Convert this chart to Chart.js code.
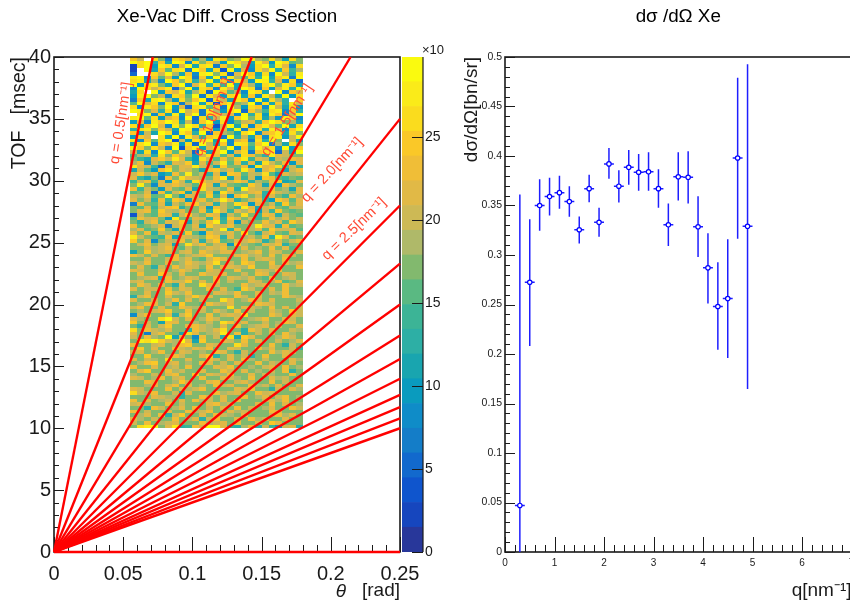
<!DOCTYPE html>
<html lang="en">
<head>
    <meta charset="UTF-8"/>
    <title>Xe-Vac</title>
    <script src="https://cdn.jsdelivr.net/npm/chart.js@4.4.1/dist/chart.umd.min.js"></script>
    <style>
        html, body { margin: 0; background: #fff; overflow: hidden; width: 850px; height: 608px; }
        canvas { position: absolute; top: 0; }
        #heatChart { left: 0; }
        #barChart { left: 402px; }
        #sigmaChart { left: 460px; }
    </style>
</head>
<body>
<canvas id="heatChart" width="456" height="608"></canvas>
<canvas id="barChart" width="60" height="608"></canvas>
<canvas id="sigmaChart" width="436" height="608"></canvas>
<script>
    // left panel: q lines, end points
    const lineTheta = [0.0714, 0.1429, 0.2143, 0.25, 0.25, 0.25, 0.25, 0.25, 0.25, 0.25, 0.25, 0.25, 0.25, 0.25, 0.25];
    const lineTof = [40, 40, 40, 35, 28, 23.3, 20, 17.5, 15.6, 14, 12.7, 11.7, 10.8, 10, 0];
    const qLabels = ['q = 0.5[nm⁻¹]', 'q = 1.0[nm⁻¹]', 'q = 1.5[nm⁻¹]', 'q = 2.0[nm⁻¹]', 'q = 2.5[nm⁻¹]'];
    const qLabelTheta = [0.0484, 0.1149, 0.1684, 0.2009, 0.2168];
    const qLabelTof = [34.67, 35.15, 34.9, 30.87, 26.1];
    const qLabelAngle = [-81, -68, -57, -47, -44];
    const thetaTicks = [0, 0.05, 0.1, 0.15, 0.2, 0.25];
    const tofTicks = [0, 5, 10, 15, 20, 25, 30, 35, 40];

    // heat map: colour level of each cell, base 20, top row (40 msec) first, . = empty
    const heatThetaStart = 0.055, heatThetaBin = 0.005, heatTofTop = 40, heatTofBin = 0.3;
    const heatRows = [
        'gd.hb4hge8c6igbcjicbhc7hb', 'jhj8g7ji5hbgd6jhd7ie6jhab', '1hj6ih5ej7hi4gbjc6hj8ie5h', '1.j7gahi4jg7h2j6e5hdj8g9c',
        '3..hdjc7g5ijbh3ejg7h5jd8i', 'ij5gae6jh4g7j5icah8j7gi4j', 'hi7c5jgbh8dj7g5hd6ji8e5h3', 'j6hib7gj5ei8h9j7gc6hjbig7',
        '5jhdgi3cj6hg5ie7jh4g6ei8j', '7h.j6gei7ch3jgac5ih7.j5gd', '6ijbd5hgaj4ie6hj7g5id7j6h', '4g7ijc6hbgj3hd7ig5j6hc8.g',
        'ajeh5ig4dj7h2gibcj5h7g8id', 'h5igbj6e3hiag4jc6hg5jd7h6', 'jibe8h5jdg4ic6hj3gc9hi5g8', '.hj5g7i6ej4hgde5j8h6ig4dj',
        'ijah6eg5j3h8di6gjbh7c6ig5', '6e5igjh7d4gj6h5ade8gjhbc7', 'h7gje5ibjh8g2dj7h5gieaj7h', '8hibgd7ji5gh6e7j4gh8ie5gj',
        'g6d7jh5ig8j3gcb7hj5egi7hb', '6ge.h7j5ie9gh4j8d7g5hi6dj', 'i5gahj2d6hgi7j5eg4h8jb.d7', '7hj5gei6h3jd8g5ihagj4c7hb',
        'jgbhd5j2gi7ehbj5g8ieh5j6g', 'd7h5jgahd3i7gj6eh4ghi3d7j',
        'ace8hbgdc6dhfae7hfb8iedbb', 'b97egdie96hdafbgi9ed7dcfe', 'cf5db8edg7eadiaf8e7hdbf6e', 'ied93fbeeidc7gbbf6iefhad9',
        '7da6fhbedb7fgceaie6egb7df', 'dgce68fbibd8e6gfadcha7ecd', 'e97b4fbhedcbfi7e9d6gfa9ba', '9df9e6gd8hfdecdge8cbfg78e',
        'bib5edfdcahe7fba9gd7e6fcb', 'f9db6ebae7hdcbf8iedcfbc7e', 'abe3f9dg7ebf7hdbcef8gdcbe', 'dcfabib7edag9e6fhbd8eb9fc',
        'ebd8f9ge6dfbdie8bdf96geae', '4fbae7dbfgce8dbhf6ebd9gbe', 'bae9dfg8bbe6fdb9ie7dfbadd', 'befagdcebbf8hd9ecf6d9gbab',
        '2dbafe8dgcbfe7dbhb9fe8dba', 'afdeb6ibaed9f8gebd9bfcebd', 'b8dfaedg7dbfi9e6dbbfceagd', 'fabce4dfbe7gddfbbciee8fab',
        'ceabgb7fbdebdi8fbceagddea', 'ebf8dceaga6fdcebhb8dfbaed', 'idba9f7edcbgf8ebcdbf8ieab', 'gbe5bdcfbe8dgabedfd8bebdf',
        'bdfbde7bhdfbde6gcbaedf8bb',
        'bbecdfbadbcedfbbebcbfbeab', '7bgcdebdebfdceebcdfbedbbe', 'fdbeb9fbcdegbbbefcdbfbedb', 'bbebbdfcebadgebbfbdedbfbb',
        'dcfbbebcfdcehbdbgebbfbecd', 'beb8dbfcedbfbeedcgbbedbbf', 'edbbebcfdbaedbbfbbedcfbbb', 'bfbbgdbebbfddebbdbfebbedb',
        'bcde8fbcedbbfbedcebafbcdb', 'debbbfddgbebfbdbbedbcfabe', 'bfdbeb8ebbhedbbbfcdebbfcd', 'ebddbfbedbbfbeb9gdbbebfbb',
        'bbebbgdcfbbbedcfbbebdcfbb', '8dfbbebbdgdebbbfdbebbbfdc', 'ebbdbcfbebdbbhebcfdbebbbd', 'bcfebd8gbbafdcebbbfedbbbc',
        'dfbbebbfdcebbbhbedcbfbebd', 'bcbdegbbfbdbecbfbdbbecbgd', '5dfbbe8dgbbfbdedhbbbfdbed', 'ecbbhjdbebcfdbbebcdfbbedb',
        'gbdb7febbcbdbhfcebbdbcfeb', 'b8ebdgbbefdcbebfbcdebdbbe', 'hbfdcebb8fdcehbb8fdbebbdc', 'eb4dfbb7hebcdibf8bdbebfcb',
        'dbfcbj7eb5fbd8h7gebbbcfdb',
        'bihjgdcje7gbbedbfbebbdbce', 'fbbdebcfgbbedbbhebbbfb8db', 'bgbebbfdcedfbbedbbfcebbd8', 'debcfbbedbcbfeb8dbbbfcedb',
        'bbgbbcfdbbeg8bebd8bfbbebb', 'ebdcbhbbebbfdbebfcbdbbbec', 'bcfgbdebcbfebdbebbfbdcbeb', 'fbbebcdbfbbbedfbbcbdebfbc',
        'begbbfcdbbebbfdbebcbdbf8b', 'cbbdbefbbgbedcfbbebdcbbfb', 'edbcfbdebbfbbedcbfbbecdbb', 'bbfebbcgdbbefbbdecbbfbdbb',
        'bbcebdfbebcbfdebbfcdbebbe', 'edbbbfbecdfbbbbedfbb8dbec', 'hdcfbbd8ebbbfcdebbfdebbbb', 'bbbedcc8bbfdbebbfbcebdfbc',
        'fbebcdbebfcdbebfbbbdecfbb', 'decbbfbdbbbefcdbbbebfbebc', 'bb8fdbcebfbdbebfbdbcebbfd', 'fbdbbebbfcdfbbecdbbbfebbb',
        'bcebf8dgbbebfdcbebbbdfceb', 'ecbdbbfbce8dfbbebfcdbbebb', 'dbfbcdebbbfcdebfbbebgebbb', 'bhijbei89fdjje98cf8d96de8'
    ];

    // colour bar
    const bandColors = [
        '#28379a', '#1646be', '#0f55cd', '#1269cd', '#147dc8', '#0f8cc8', '#0a9bbe', '#19a5af', '#2dafa5', '#3cb496',
        '#5ab982', '#82b96e', '#afb969', '#cdb955', '#e1b946', '#f0be37', '#fac828', '#fadc1e', '#faeb19', '#fafa0f'
    ];
    const bandWidth = 1.49;
    const zTicks = [0, 5, 10, 15, 20, 25];

    // right panel
    const qVals = [0.3, 0.5, 0.7, 0.9, 1.1, 1.3, 1.5, 1.7, 1.9, 2.1, 2.3, 2.5, 2.7, 2.9, 3.1, 3.3, 3.5, 3.7, 3.9, 4.1, 4.3, 4.5, 4.7, 4.9];
    const sigma = [0.047, 0.2725, 0.35, 0.359, 0.363, 0.354, 0.3255, 0.367, 0.333, 0.392, 0.3695, 0.3886, 0.3836, 0.384, 0.367, 0.3305, 0.379, 0.3785, 0.3285, 0.287, 0.248, 0.256, 0.398, 0.329];
    const sigmaHi = [0.361, 0.336, 0.3765, 0.378, 0.38, 0.3695, 0.339, 0.381, 0.3477, 0.408, 0.3856, 0.406, 0.402, 0.4037, 0.3866, 0.352, 0.4037, 0.4047, 0.3594, 0.322, 0.2926, 0.3158, 0.479, 0.4926];
    const sigmaLo = [0, 0.208, 0.3245, 0.34, 0.3466, 0.3386, 0.3117, 0.3534, 0.3185, 0.377, 0.353, 0.371, 0.365, 0.365, 0.3477, 0.309, 0.355, 0.352, 0.298, 0.251, 0.2044, 0.196, 0.3164, 0.1647];
    const qHalfBin = 0.1;
    const qTicks = [0, 1, 2, 3, 4, 5, 6, 7];
    const sigmaTicks = [0, 0.05, 0.1, 0.15, 0.2, 0.25, 0.3, 0.35, 0.4, 0.45, 0.5];

    const FONT = '"Liberation Sans", Arial, sans-serif';
    Chart.defaults.font.family = FONT;
    Chart.defaults.animation = false;
    Chart.defaults.color = '#1a1a1a';

    // ticks point inward like ROOT
    function drawMarks(chart, scale, minorStep, major, lens) {
        const ctx = chart.ctx, a = chart.chartArea;
        ctx.save();
        ctx.strokeStyle = '#1a1a1a';
        ctx.lineWidth = 1;
        const n = Math.floor((scale.max - scale.min) / minorStep + 0.001);
        for (let i = 0; i <= n; i++) {
            const v = scale.min + i * minorStep;
            const isMajor = major.some(m => Math.abs(m - v) < minorStep / 10);
            const len = isMajor ? lens[0] : lens[1];
            const p = Math.round(scale.getPixelForValue(v)) + 0.5;
            ctx.beginPath();
            if (scale.axis === 'x') {
                ctx.moveTo(p, a.bottom);
                ctx.lineTo(p, a.bottom - len);
            } else if (scale.position === 'right') {
                ctx.moveTo(a.right, p);
                ctx.lineTo(a.right - len, p);
            } else {
                ctx.moveTo(a.left, p);
                ctx.lineTo(a.left + len, p);
            }
            ctx.stroke();
        }
        ctx.restore();
    }

    function drawFrame(chart) {
        const a = chart.chartArea, ctx = chart.ctx;
        ctx.save();
        ctx.strokeStyle = '#1a1a1a';
        ctx.lineWidth = 1.6;
        ctx.strokeRect(a.left, a.top, a.right - a.left, a.bottom - a.top);
        ctx.restore();
    }

    function drawTitle(chart, text) {
        const a = chart.chartArea, ctx = chart.ctx;
        ctx.save();
        ctx.fillStyle = '#000';
        ctx.font = '18.8px ' + FONT;
        ctx.textAlign = 'center';
        ctx.textBaseline = 'middle';
        ctx.fillText(text, (a.left + a.right) / 2, 17);
        ctx.restore();
    }

    const heatPlugin = {
        id: 'heatCells',
        beforeDatasetsDraw(chart) {
            const ctx = chart.ctx, x = chart.scales.x, y = chart.scales.y;
            heatRows.forEach((row, r) => {
                const top = Math.round(y.getPixelForValue(heatTofTop - r * heatTofBin));
                const bot = Math.round(y.getPixelForValue(heatTofTop - (r + 1) * heatTofBin));
                for (let c = 0; c < row.length; c++) {
                    const level = parseInt(row[c], 20);
                    if (isNaN(level)) continue;
                    const l = Math.round(x.getPixelForValue(heatThetaStart + c * heatThetaBin));
                    const rr = Math.round(x.getPixelForValue(heatThetaStart + (c + 1) * heatThetaBin));
                    ctx.fillStyle = bandColors[level];
                    ctx.fillRect(l, top, rr - l, bot - top);
                }
            });
            drawFrame(chart);
            drawMarks(chart, x, 0.01, thetaTicks, [15, 7]);
            drawMarks(chart, y, 1, tofTicks, [10, 5]);
            drawTitle(chart, 'Xe-Vac Diff. Cross Section');
        },
        afterDatasetsDraw(chart) {
            const ctx = chart.ctx, x = chart.scales.x, y = chart.scales.y, a = chart.chartArea;
            ctx.save();
            ctx.fillStyle = 'rgb(255,75,55)';
            ctx.font = '14.5px ' + FONT;
            ctx.textAlign = 'center';
            ctx.textBaseline = 'middle';
            qLabels.forEach((txt, i) => {
                ctx.save();
                ctx.translate(x.getPixelForValue(qLabelTheta[i]), y.getPixelForValue(qLabelTof[i]));
                ctx.rotate(qLabelAngle[i] * Math.PI / 180);
                ctx.fillText(txt, 0, 0);
                ctx.restore();
            });
            ctx.fillStyle = '#1a1a1a';
            ctx.font = '19px ' + FONT;
            ctx.textAlign = 'right';
            ctx.fillText('[rad]', a.right, 591);
            ctx.font = 'italic 19px ' + FONT;
            ctx.textAlign = 'center';
            ctx.fillText('θ', a.right - 59, 592);
            ctx.restore();
        }
    };

    const barPlugin = {
        id: 'barMarks',
        afterDatasetsDraw(chart) {
            const ctx = chart.ctx, a = chart.chartArea;
            drawMarks(chart, chart.scales.y, 5, zTicks, [11, 11]);
            ctx.save();
            ctx.strokeStyle = '#1a1a1a';
            ctx.lineWidth = 1.2;
            ctx.beginPath();
            ctx.moveTo(a.right, a.top);
            ctx.lineTo(a.right, a.bottom);
            ctx.stroke();
            ctx.fillStyle = '#1a1a1a';
            ctx.font = '13px ' + FONT;
            ctx.textAlign = 'left';
            ctx.fillText('×10', a.right - 1, a.top - 3);
            ctx.restore();
        }
    };

    const sigmaPlugin = {
        id: 'sigmaMarks',
        beforeDatasetsDraw(chart) {
            drawFrame(chart);
            drawMarks(chart, chart.scales.x, 0.2, qTicks, [15, 7]);
            drawMarks(chart, chart.scales.y, 0.01, sigmaTicks, [10, 5]);
            drawTitle(chart, 'dσ /dΩ Xe');
        }
    };

    const setTicks = list => scale => { scale.ticks = list.map(v => ({value: v})); };
    const noGrid = {display: false, drawTicks: false};

    // --- left panel ---
    const lineSets = lineTheta.map((t, i) => ({
        data: [{x: 0, y: 0}, {x: t, y: lineTof[i]}],
        showLine: true,
        borderColor: '#ff0000',
        borderWidth: 2.4,
        pointRadius: 0,
        clip: lineTof[i] === 0 ? false : 1
    }));
    new Chart(document.getElementById('heatChart'), {
        type: 'scatter',
        data: {datasets: lineSets},
        plugins: [heatPlugin],
        options: {
            responsive: false,
            events: [],
            layout: {autoPadding: false, padding: {left: 0, right: 56, top: 57, bottom: 6}},
            plugins: {legend: {display: false}, tooltip: {enabled: false}},
            scales: {
                x: {
                    type: 'linear', min: 0, max: 0.25,
                    grid: noGrid, border: {display: false},
                    afterBuildTicks: setTicks(thetaTicks),
                    afterFit: s => { s.height = 50; },
                    ticks: {autoSkip: false, maxRotation: 0, padding: 10, font: {size: 20}, callback: v => String(v)}
                },
                y: {
                    type: 'linear', min: 0, max: 40,
                    grid: noGrid, border: {display: false},
                    afterBuildTicks: setTicks(tofTicks),
                    afterFit: s => { s.width = 54; },
                    ticks: {autoSkip: false, padding: 3, font: {size: 20}, callback: v => String(v)},
                    title: {display: true, text: 'TOF   [msec]', align: 'end', font: {size: 19.5}, padding: {top: 8, bottom: 0}}
                }
            }
        }
    });

    // --- colour bar ---
    new Chart(document.getElementById('barChart'), {
        type: 'bar',
        data: {
            labels: ['z'],
            datasets: bandColors.map(col => ({data: [bandWidth], backgroundColor: col, barPercentage: 1, categoryPercentage: 1}))
        },
        plugins: [barPlugin],
        options: {
            responsive: false,
            events: [],
            layout: {autoPadding: false, padding: {left: 0, right: 0, top: 57, bottom: 56}},
            plugins: {legend: {display: false}, tooltip: {enabled: false}},
            scales: {
                x: {display: false, stacked: true},
                y: {
                    type: 'linear', position: 'right', stacked: true, min: 0, max: 29.8,
                    grid: noGrid, border: {display: false},
                    afterBuildTicks: setTicks(zTicks),
                    afterFit: s => { s.width = 39; },
                    ticks: {autoSkip: false, padding: 2, font: {size: 14}, callback: v => String(v)}
                }
            }
        }
    });

    // --- right panel ---
    const errorPoints = [];
    qVals.forEach((q, i) => {
        errorPoints.push({x: q - qHalfBin, y: sigma[i]}, {x: q + qHalfBin, y: sigma[i]}, {x: NaN, y: NaN});
        errorPoints.push({x: q, y: sigmaLo[i]}, {x: q, y: sigmaHi[i]}, {x: NaN, y: NaN});
    });
    new Chart(document.getElementById('sigmaChart'), {
        type: 'scatter',
        data: {
            datasets: [
                {
                    data: qVals.map((q, i) => ({x: q, y: sigma[i]})),
                    pointRadius: 2.2,
                    pointBorderWidth: 1.2,
                    pointBorderColor: '#0000ff',
                    pointBackgroundColor: '#ffffff'
                },
                {
                    data: errorPoints,
                    showLine: true,
                    spanGaps: false,
                    borderColor: 'rgb(30,30,255)',
                    borderWidth: 1.5,
                    pointRadius: 0
                }
            ]
        },
        plugins: [sigmaPlugin],
        options: {
            responsive: false,
            events: [],
            layout: {autoPadding: false, padding: {left: 0, right: 44.5, top: 57, bottom: 6}},
            plugins: {legend: {display: false}, tooltip: {enabled: false}},
            scales: {
                x: {
                    type: 'linear', min: 0, max: 7,
                    grid: noGrid, border: {display: false},
                    afterBuildTicks: setTicks(qTicks),
                    afterFit: s => { s.height = 50; },
                    ticks: {autoSkip: false, maxRotation: 0, padding: 5, font: {size: 10}, callback: v => String(v)},
                    title: {display: true, text: 'q[nm⁻¹]', align: 'end', font: {size: 19}, padding: 0}
                },
                y: {
                    type: 'linear', min: 0, max: 0.5,
                    grid: noGrid, border: {display: false},
                    afterBuildTicks: setTicks(sigmaTicks),
                    afterFit: s => { s.width = 45; },
                    ticks: {autoSkip: false, padding: 3, font: {size: 10.5}, callback: v => String(v)},
                    title: {display: true, text: 'dσ/dΩ[bn/sr]', align: 'end', font: {size: 19}, padding: 0}
                }
            }
        }
    });
</script>
</body>
</html>
